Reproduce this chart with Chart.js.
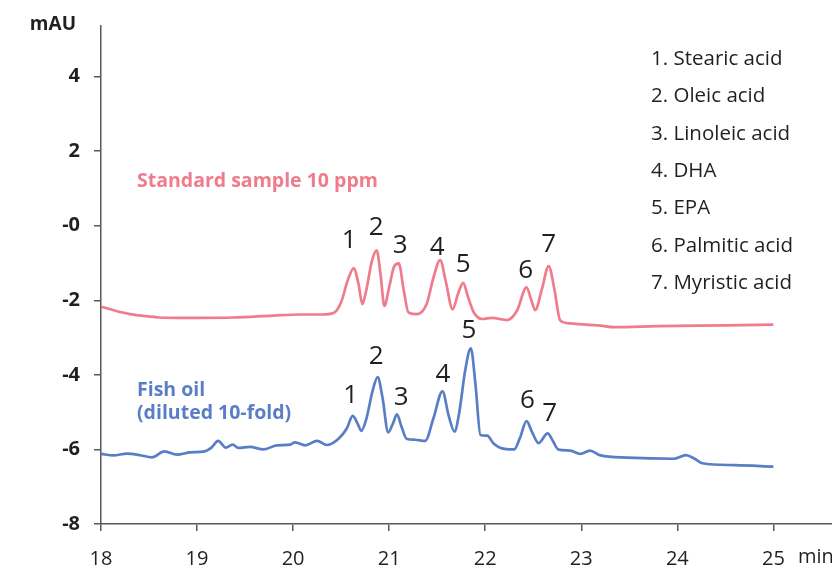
<!DOCTYPE html>
<html>
<head>
<meta charset="utf-8">
<script src="https://cdn.jsdelivr.net/npm/chart.js@4"></script>
<style>
html,body{margin:0;padding:0;background:#fff;}
#wrap{width:832px;height:569px;position:relative;}
</style>
</head>
<body>
<div id="wrap"><canvas id="c" width="832" height="569"></canvas></div>
<script>
// ---- data (minutes, mAU) ----
const stdTime = [18.00,18.15,18.30,18.45,18.61,18.80,19.00,19.375,19.79,20.07,20.30,20.42,20.50,20.57,20.63,20.68,20.72,20.76,20.82,20.87,20.91,20.95,21.00,21.05,21.10,21.15,21.20,21.29,21.39,21.46,21.53,21.59,21.66,21.72,21.77,21.82,21.88,21.97,22.07,22.23,22.33,22.43,22.48,22.52,22.59,22.66,22.72,22.78,22.85,23.20,23.34,23.80,24.50,25.00];
const stdSignal = [-2.17,-2.28,-2.37,-2.42,-2.46,-2.47,-2.47,-2.46,-2.41,-2.38,-2.38,-2.34,-2.05,-1.45,-1.14,-1.55,-2.10,-1.75,-0.95,-0.66,-1.30,-2.15,-1.65,-1.10,-1.01,-1.70,-2.32,-2.37,-2.10,-1.40,-0.92,-1.50,-2.24,-1.80,-1.53,-1.90,-2.32,-2.50,-2.47,-2.53,-2.28,-1.65,-2.00,-2.26,-1.70,-1.08,-1.70,-2.54,-2.61,-2.68,-2.72,-2.69,-2.67,-2.65];

const fishTime = [18.00,18.13,18.27,18.40,18.53,18.66,18.79,18.93,19.08,19.15,19.22,19.30,19.37,19.43,19.55,19.69,19.83,19.97,20.02,20.125,20.25,20.35,20.47,20.56,20.62,20.67,20.71,20.76,20.83,20.88,20.93,20.99,21.04,21.08,21.13,21.18,21.27,21.375,21.46,21.555,21.62,21.68,21.73,21.79,21.85,21.90,21.95,22.02,22.09,22.16,22.30,22.36,22.43,22.49,22.555,22.65,22.70,22.76,22.885,22.99,23.09,23.20,23.48,23.96,24.09,24.18,24.26,24.60,25.00];
const fishSignal = [-6.12,-6.16,-6.11,-6.15,-6.21,-6.05,-6.14,-6.08,-6.05,-5.95,-5.77,-5.95,-5.87,-5.96,-5.93,-6.00,-5.89,-5.87,-5.81,-5.89,-5.77,-5.88,-5.72,-5.43,-5.10,-5.30,-5.50,-5.20,-4.40,-4.06,-4.60,-5.54,-5.30,-5.06,-5.40,-5.71,-5.74,-5.77,-5.17,-4.44,-5.10,-5.52,-5.00,-3.90,-3.29,-4.30,-5.61,-5.63,-5.85,-5.96,-6.00,-5.70,-5.24,-5.55,-5.83,-5.57,-5.75,-6.00,-6.03,-6.12,-6.03,-6.16,-6.22,-6.25,-6.15,-6.25,-6.37,-6.42,-6.46];

const xTickValues = [18,19,20,21,22,23,24,25];
const yTickValues = [-8,-6,-4,-2,0,2,4];
const yTickLabels = ['-8','-6','-4','-2','-0','2','4'];

const peakNames = ['1','2','3','4','5','6','7'];
const stdPeakLabelX = [20.583,20.865,21.115,21.50,21.77,22.42,22.66];
const stdPeakLabelY = [-0.39,-0.05,-0.53,-0.58,-1.03,-1.21,-0.50];
const fishPeakLabelX = [20.60,20.865,21.125,21.56,21.83,22.44,22.67];
const fishPeakLabelY = [-4.55,-3.50,-4.60,-3.99,-2.81,-4.70,-5.05];

const compoundList = ['1. Stearic acid','2. Oleic acid','3. Linoleic acid','4. DHA','5. EPA','6. Palmitic acid','7. Myristic acid'];
const stdName = 'Standard sample 10 ppm';
const fishName = ['Fish oil','(diluted 10-fold)'];
const yUnit = 'mAU';
const xUnit = 'min';

// ---- styles ----
const PINK = '#f07b8b';
const BLUE = '#5a7ec5';
const TEXT = '#231f20';
const AXIS = '#595959';
const FONT = '"Open Sans", "Noto Sans", sans-serif';

const toPts = (xs, ys) => xs.map((x, i) => ({x: x, y: ys[i]}));

const textPlugin = {
  id: 'texts',
  afterDraw(chart) {
    const ctx = chart.ctx;
    const xs = chart.scales.x, ys = chart.scales.y;
    ctx.save();
    // peak numbers
    ctx.fillStyle = TEXT;
    ctx.font = '500 26px ' + FONT;
    ctx.textAlign = 'center';
    ctx.textBaseline = 'middle';
    peakNames.forEach((n, i) => {
      ctx.fillText(n, xs.getPixelForValue(stdPeakLabelX[i]), ys.getPixelForValue(stdPeakLabelY[i]));
      ctx.fillText(n, xs.getPixelForValue(fishPeakLabelX[i]), ys.getPixelForValue(fishPeakLabelY[i]));
    });
    // compound list
    ctx.font = '500 20.5px ' + FONT;
    ctx.textAlign = 'left';
    compoundList.forEach((t, i) => {
      ctx.fillText(t, 651, 59 + i * 37.4);
    });
    // series names
    ctx.font = 'bold 19.5px ' + FONT;
    ctx.fillStyle = PINK;
    ctx.fillText(stdName, 137, 181);
    ctx.fillStyle = BLUE;
    ctx.fillText(fishName[0], 137, 390);
    ctx.fillText(fishName[1], 137, 413);
    // units
    ctx.fillStyle = TEXT;
    ctx.font = 'bold 19px ' + FONT;
    ctx.textAlign = 'right';
    ctx.fillText(yUnit, 76, 25);
    ctx.font = '400 20px ' + FONT;
    ctx.textAlign = 'left';
    ctx.fillText(xUnit, 798, 557);
    ctx.restore();
  }
};

new Chart(document.getElementById('c'), {
  type: 'line',
  data: {
    datasets: [
      {label: stdName, data: toPts(stdTime, stdSignal), borderColor: PINK, borderWidth: 2.7, pointRadius: 0, cubicInterpolationMode: 'monotone', fill: false},
      {label: fishName.join(' '), data: toPts(fishTime, fishSignal), borderColor: BLUE, borderWidth: 2.7, pointRadius: 0, cubicInterpolationMode: 'monotone', fill: false}
    ]
  },
  options: {
    responsive: false,
    animation: false,
    layout: {padding: {top: 16, left: 0, right: 0, bottom: 0}},
    plugins: {legend: {display: false}, tooltip: {enabled: false}},
    scales: {
      x: {
        type: 'linear',
        min: 18, max: 25.61,
        afterBuildTicks: s => { s.ticks = xTickValues.map(v => ({value: v})); },
        afterFit: s => { s.height = 45; },
        border: {display: true, color: AXIS, width: 1.5},
        grid: {display: true, drawOnChartArea: false, drawTicks: true, tickLength: 7, color: AXIS, lineWidth: 1.5},
        ticks: {color: TEXT, font: {family: FONT, size: 20, weight: '400'}, padding: 16, maxRotation: 0, autoSkip: false, callback: v => String(v)}
      },
      y: {
        type: 'linear',
        min: -8, max: 5.36,
        afterBuildTicks: s => { s.ticks = yTickValues.map(v => ({value: v})); },
        afterFit: s => { s.width = 101; },
        border: {display: true, color: AXIS, width: 1.5},
        grid: {display: true, drawOnChartArea: false, drawTicks: true, tickLength: 7, color: AXIS, lineWidth: 1.5},
        ticks: {color: TEXT, font: {family: FONT, size: 20, weight: 'bold'}, padding: 14, autoSkip: false,
          callback: v => { const i = yTickValues.indexOf(v); return i >= 0 ? yTickLabels[i] : ''; }}
      }
    }
  },
  plugins: [textPlugin]
});
</script>
</body>
</html>
